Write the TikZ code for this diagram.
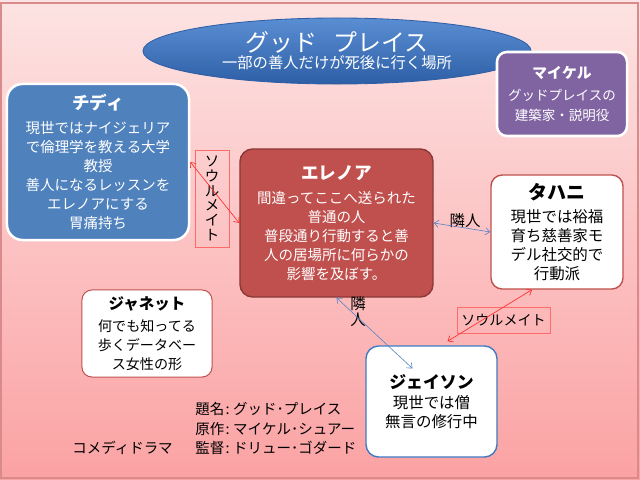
\documentclass[tikz,border=0pt]{standalone}
\usepackage{fontspec}
\setmainfont{Noto Sans CJK JP}
\usetikzlibrary{shapes.geometric, arrows.meta, positioning, calc}
\definecolor{bgtop}{HTML}{FDE3E3}
\definecolor{bgbot}{HTML}{FBA2A3}
\definecolor{framered}{HTML}{D98A8A}
\definecolor{chidiblue}{HTML}{4F81BD}
\definecolor{michaelpurple}{HTML}{8064A2}
\definecolor{eleanorred}{HTML}{C0504D}
\definecolor{eleanordark}{HTML}{8C3836}
\definecolor{titletop}{HTML}{5A8ED3}
\definecolor{titlebot}{HTML}{2E5FA6}
\definecolor{jasonblue}{HTML}{3F79C2}
\definecolor{soulred}{HTML}{FF2A2A}
\definecolor{tagred}{HTML}{FF6B6B}
\definecolor{neighblue}{HTML}{5A86C8}
\tikzset{
  cbox/.style={
    rectangle, rounded corners=9pt, draw=white, line width=1.8pt,
    fill=#1, text=white, align=center, inner sep=0pt
  },
  wbox/.style={
    rectangle, rounded corners=8pt, draw=#1, line width=1pt,
    fill=white, text=black, align=center, inner sep=0pt
  },
  link/.style={
    {Straight Barb[length=1.1mm,width=1.8mm]}-{Straight Barb[length=1.1mm,width=1.8mm]},
    line width=0.45pt, draw=#1
  },
  tag/.style={
    rectangle, draw=tagred, line width=0.5pt, align=center, inner sep=0pt
  },
  body/.style={font=\fontsize{#1}{13.6}\selectfont}
}
\newcommand{\headline}[2]{{\fontsize{#1}{15}\selectfont\bfseries #2}}
\newcommand{\cln}{\kern1pt:\kern2.5pt}
\begin{document}
\begin{tikzpicture}[x=0.025cm, y=-0.025cm]
  % background
  \fill[top color=bgtop, bottom color=bgbot] (0,0) rectangle (640,480);
  \draw[framered, line width=0.8pt] (1,3) rectangle (638,478);
  \useasboundingbox (0,0) rectangle (640,480);

  % title
  \node[ellipse, draw=titlebot, line width=0.6pt,
        top color=titletop, bottom color=titlebot,
        minimum width=9.7cm, minimum height=1.65cm,
        text=white, align=center, inner sep=0pt] (title) at (337,51)
    {{\fontsize{17}{18}\selectfont グッド\hspace{0.7em}プレイス}\\[0pt]
     {\fontsize{10.9}{13}\selectfont 一部の善人だけが死後に行く場所}};

  % characters
  \node[cbox=michaelpurple, rounded corners=7pt, body=9.6,
        minimum width=3.25cm, minimum height=2.1cm] (michael) at (562,94)
    {\headline{10.5}{マイケル}\\[2pt]
     グッドプレイスの\\
     建築家・説明役};
  \node[cbox=chidiblue, rounded corners=11pt, body=10.3,
        minimum width=4.55cm, minimum height=3.9cm] (chidi) at (98,162)
    {\headline{12.5}{チディ}\\[3.5pt]
     現世ではナイジェリア\\
     で倫理学を教える大学\\
     教授\\
     善人になるレッスンを\\
     エレノアにする\\
     胃痛持ち};
  \node[cbox=eleanorred, draw=eleanordark, line width=1pt, body=10.3,
        minimum width=4.825cm, minimum height=3.7cm] (eleanor) at (336.5,223)
    {\headline{12.5}{エレノア}\\[3.5pt]
     間違ってここへ送られた\\
     普通の人\\
     普段通り行動すると善\\
     人の居場所に何らかの\\
     影響を及ぼす。};
  \node[wbox=eleanorred, body=11,
        minimum width=3.3cm, minimum height=2.85cm] (tahani) at (557,232)
    {\headline{13.5}{タハニ}\\[3pt]
     現世では裕福\\
     育ち慈善家モ\\
     デル社交的で\\
     行動派};
  \node[wbox=eleanorred, line width=0.7pt, rounded corners=7pt, body=10,
        minimum width=3.25cm, minimum height=2.175cm] (janet) at (147,333.5)
    {\headline{11}{ジャネット}\\[2pt]
     何でも知ってる\\
     歩くデータベー\\
     ス女性の形};
  \node[wbox=jasonblue, rounded corners=9pt, body=11,
        minimum width=3.275cm, minimum height=2.775cm] (jason) at (431.5,401.5)
    {\headline{12}{ジェイソン}\\[1pt]
     現世では僧\\
     無言の修行中};

  % relation labels
  \node[tag, font=\fontsize{10.3}{10.5}\selectfont,
        minimum width=0.85cm, minimum height=2.425cm] (soultag) at (212,198.5)
    {ソ\\ウ\\ル\\メ\\イ\\ト};
  \node[tag, font=\fontsize{10}{12}\selectfont,
        minimum width=2.325cm, minimum height=0.65cm] (soultagb) at (503.5,320)
    {ソウルメイト};
  \node[font=\fontsize{11}{12}\selectfont, inner sep=0pt] (nbtag) at (465,221) {隣人};
  \node[font=\fontsize{11}{12}\selectfont, align=center, inner sep=0pt] (nbtagb) at (358,311.5)
    {隣\\人};

  % connectors
  \draw[link=soulred] (chidi.east) -- (eleanor.west);
  \draw[link=neighblue] (eleanor.east) -- (tahani.west);
  \draw[link=neighblue] (eleanor.south) -- ($(jason.center)+(-19,-33)$);
  \draw[link=soulred] ($(tahani.south)+(-25,0)$) -- ($(jason.north)+(16,-4)$);

  % credits
  \node[anchor=west, align=left, inner sep=0pt,
        font=\fontsize{10.3}{13.8}\selectfont] (credits) at (195,428.5)
    {題名\cln グッド･プレイス\\
     原作\cln マイケル･シュアー\\
     監督\cln ドリュー･ゴダード};
  \node[anchor=south east, inner sep=0pt, font=\fontsize{10.3}{13.8}\selectfont]
    (genre) at ($(credits.south west)+(-22,0)$) {コメディドラマ};
\end{tikzpicture}
\end{document}
